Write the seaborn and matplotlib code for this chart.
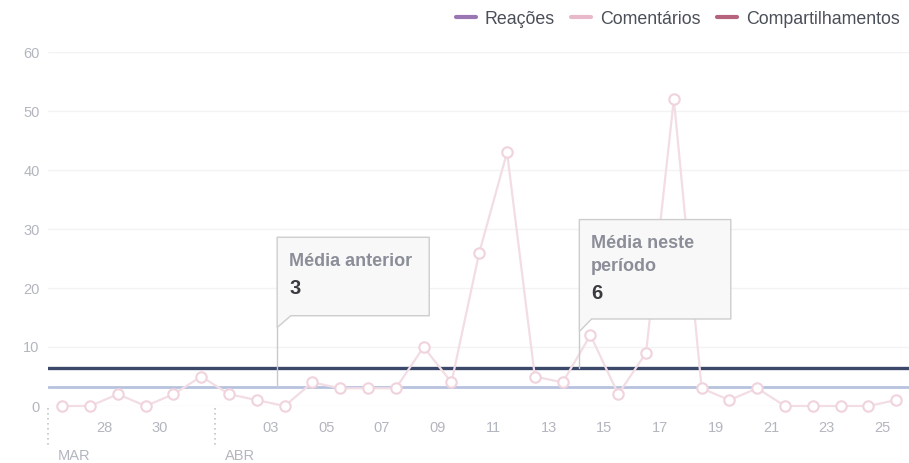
import numpy as np
import pandas as pd
import matplotlib
matplotlib.use("Agg")
import matplotlib.pyplot as plt
import seaborn as sns
from matplotlib.lines import Line2D
from matplotlib.patches import Polygon

# daily comments, 27 Mar .. 26 Apr
dias = list(range(31))
comentarios = [0, 0, 2, 0, 2, 5, 2, 1, 0, 4, 3, 3, 3, 10, 4, 26, 43, 5, 4, 12,
               2, 9, 52, 3, 1, 3, 0, 0, 0, 0, 1]

# tick labels (positions are half a day after the point index)
tick_pos = [1.5, 3.5, 7.5, 9.5, 11.5, 13.5, 15.5, 17.5, 19.5, 21.5, 23.5, 25.5, 27.5, 29.5]
tick_labels = ["28", "30", "03", "05", "07", "09", "11", "13", "15", "17",
               "19", "21", "23", "25"]
meses = ["MAR", "ABR"]
mes_inicio = [-0.5, 5.5]

media_anterior = 3.25
media_periodo = 6.45

series = ["Reações", "Comentários", "Compartilhamentos"]
cores = ["#9a76b3", "#e8b9ca", "#b5637d"]

df = pd.DataFrame({"dia": dias, "valor": comentarios})

sns.set_style("white")
plt.rcParams["font.family"] = ["Liberation Sans", "DejaVu Sans"]

fig = plt.figure(figsize=(9.09, 4.63), dpi=100)
ax = fig.add_axes([48 / 909, 1 - 406 / 463, 861 / 909, 354 / 463])

# faint horizontal grid
for v in range(0, 61, 10):
    ax.axhline(v, color="#f3f3f5", lw=1, zorder=0)

ax.axhline(media_anterior, color="#b7c3de", lw=2.0, zorder=2)
ax.axhline(media_periodo, color="#3c486a", lw=2.4, zorder=2)

sns.lineplot(data=df, x="dia", y="valor", ax=ax, color="#f3dde5", lw=1.6,
             marker="o", markersize=7.5, markerfacecolor="white",
             markeredgecolor="#f0d3dd", markeredgewidth=1.5, clip_on=False, zorder=3)

ax.set_xlim(-0.514, 30.46)
ax.set_ylim(0, 60)
ax.set_yticks(range(0, 61, 10))
ax.set_xticks(tick_pos)
ax.set_xticklabels(tick_labels)
ax.tick_params(axis="x", length=3, width=0.8, color="#e6e6e6", pad=8,
               labelsize=10.5, labelcolor="#b3b6be")
ax.tick_params(axis="y", length=0, pad=6, labelsize=10.5, labelcolor="#b3b6be")
ax.set_xlabel("")
ax.set_ylabel("")
for s in ax.spines.values():
    s.set_visible(False)

# month separators
trans = ax.get_xaxis_transform()
for x0, m in zip(mes_inicio, meses):
    ax.plot([x0, x0], [-0.005, -0.12], transform=trans, color="#c4c6cc",
            lw=1.2, ls=(0, (1, 2)), clip_on=False)
    ax.text(x0 + 0.35, -0.14, m, transform=trans, fontsize=10.5, color="#b3b6be",
            ha="left", va="center")

# callout boxes
def callout(x0, x1, y_top, y_bot, notch_x, notch_y, y_line):
    ax.plot([x0, x0], [notch_y, y_line], color="#c9c9c9", lw=1, zorder=4)
    pts = [(x0, y_top), (x1, y_top), (x1, y_bot), (notch_x, y_bot), (x0, notch_y)]
    ax.add_patch(Polygon(pts, closed=True, facecolor="#f8f8f8", edgecolor="#cdcdcd",
                         lw=1, zorder=5, joinstyle="round"))

callout(7.73, 13.2, 28.6, 15.3, 8.22, 13.3, media_anterior)
ax.text(8.17, 24.5, "Média anterior", fontsize=13, fontweight="bold",
        color="#8b8e98", va="center", ha="left", zorder=6)
ax.text(8.17, 19.9, "3", fontsize=14.5, fontweight="bold", color="#3a3b40",
        va="center", ha="left", zorder=6)

callout(18.6, 24.05, 31.6, 14.75, 19.04, 12.6, media_periodo)
ax.text(19.03, 27.6, "Média neste", fontsize=13, fontweight="bold",
        color="#8b8e98", va="center", ha="left", zorder=6)
ax.text(19.03, 23.6, "período", fontsize=13, fontweight="bold",
        color="#8b8e98", va="center", ha="left", zorder=6)
ax.text(19.03, 19.0, "6", fontsize=14.5, fontweight="bold", color="#3a3b40",
        va="center", ha="left", zorder=6)

# legend
handles = [Line2D([0], [0], color=c, lw=3) for c in cores]
fig.legend(handles, series, loc="center left", bbox_to_anchor=(456 / 909, 1 - 19 / 463),
           ncol=3, frameon=False, fontsize=12.8, handlelength=1.1, handletextpad=0.5,
           columnspacing=0.95, borderpad=0, borderaxespad=0, labelcolor="#4b4f58")

fig.savefig("out.png", dpi=100)
